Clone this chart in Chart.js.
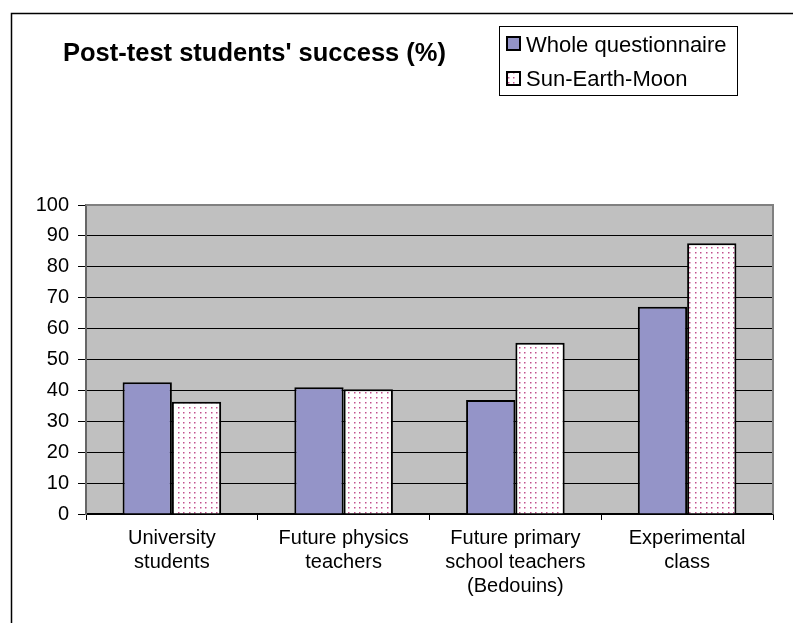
<!DOCTYPE html>
<html>
<head>
<meta charset="utf-8">
<script src="https://cdn.jsdelivr.net/npm/chart.js@4/dist/chart.umd.min.js"></script>
<style>
    html, body { margin: 0; padding: 0; background: #fff; }
    #wrap { position: relative; width: 793px; height: 623px; overflow: hidden; }
</style>
</head>
<body>
<div id="wrap"><canvas id="chart" width="793" height="623"></canvas></div>
<script>
// Chart data
const categories = [
    ['University', 'students'],
    ['Future physics', 'teachers'],
    ['Future primary', 'school teachers', '(Bedouins)'],
    ['Experimental', 'class']
];
const seriesNames = ['Whole questionnaire', 'Sun-Earth-Moon'];
const wholeQuestionnaire = [42.6, 41.0, 36.9, 67.1];
const sunEarthMoon = [36.3, 40.4, 55.4, 87.6];
const yMin = 0;
const yMax = 100;
const yStep = 10;
const chartTitle = "Post-test students' success (%)";

const FONT = "'Liberation Sans', Arial, sans-serif";

// Dotted fill like the old spreadsheet pattern
function makeDotPattern() {
    const c = document.createElement('canvas');
    c.width = 11;
    c.height = 10;
    const g = c.getContext('2d');
    g.fillStyle = '#ffffff';
    g.fillRect(0, 0, 11, 10);
    [[2, 2], [7, 2], [2, 7], [7, 7]].forEach(function(p) {
        g.fillStyle = '#c0508e';
        g.fillRect(p[0], p[1], 1, 1);
        g.fillStyle = '#e2a8c6';
        g.fillRect(p[0] + 1, p[1], 1, 1);
        g.fillRect(p[0], p[1] + 1, 1, 1);
        g.fillStyle = '#f2d6e4';
        g.fillRect(p[0] + 1, p[1] + 1, 1, 1);
    });
    return document.getElementById('chart').getContext('2d').createPattern(c, 'repeat');
}

const dotPattern = makeDotPattern();

// Background, frame, title and legend
const decorPlugin = {
    id: 'decor',
    beforeDraw: function(chart) {
        const ctx = chart.ctx;
        const a = chart.chartArea;
        ctx.save();
        ctx.fillStyle = '#ffffff';
        ctx.fillRect(0, 0, chart.width, chart.height);
        ctx.fillStyle = '#c0c0c0';
        ctx.fillRect(a.left, a.top, a.right - a.left, a.bottom - a.top);
        ctx.restore();
    },
    afterDraw: function(chart) {
        const ctx = chart.ctx;
        const a = chart.chartArea;
        ctx.save();

        // outer frame
        ctx.strokeStyle = '#000';
        ctx.lineWidth = 1.5;
        ctx.beginPath();
        ctx.moveTo(11.5, chart.height + 2);
        ctx.lineTo(11.5, 13.5);
        ctx.lineTo(chart.width + 2, 13.5);
        ctx.stroke();

        // plot border top / right
        ctx.strokeStyle = '#808080';
        ctx.lineWidth = 2;
        ctx.beginPath();
        ctx.moveTo(a.left, a.top);
        ctx.lineTo(a.right, a.top);
        ctx.lineTo(a.right, a.bottom);
        ctx.stroke();

        // title
        ctx.fillStyle = '#000';
        ctx.font = 'bold 25.5px ' + FONT;
        ctx.textAlign = 'left';
        ctx.textBaseline = 'alphabetic';
        ctx.fillText(chartTitle, 63, 61);

        // legend
        ctx.strokeStyle = '#000';
        ctx.lineWidth = 1;
        ctx.strokeRect(499.5, 26.5, 238, 69);
        ctx.font = '22px ' + FONT;
        const rows = [{ y: 37, base: 52 }, { y: 72, base: 86 }];
        chart.data.datasets.forEach(function(ds, i) {
            ctx.fillStyle = ds.backgroundColor;
            ctx.fillRect(507, rows[i].y, 13, 13);
            ctx.strokeStyle = '#000';
            ctx.lineWidth = 2;
            ctx.strokeRect(507, rows[i].y, 13, 13);
            ctx.fillStyle = '#000';
            ctx.fillText(ds.label, 526, rows[i].base);
        });
        ctx.restore();
    }
};

const ctx = document.getElementById('chart').getContext('2d');
const chart = new Chart(ctx, {
    type: 'bar',
    data: {
        labels: categories,
        datasets: [
            {
                label: seriesNames[0],
                data: wholeQuestionnaire,
                backgroundColor: '#9494c8',
                borderColor: '#000',
                borderWidth: 2
            },
            {
                label: seriesNames[1],
                data: sunEarthMoon,
                backgroundColor: dotPattern,
                borderColor: '#000',
                borderWidth: 2
            }
        ]
    },
    options: {
        responsive: false,
        animation: false,
        devicePixelRatio: 1,
        layout: {
            padding: { left: 0, top: 205, right: 20, bottom: 0 }
        },
        datasets: {
            bar: {
                barPercentage: 1,
                categoryPercentage: 0.574
            }
        },
        scales: {
            x: {
                offset: true,
                grid: {
                    offset: true,
                    drawOnChartArea: false,
                    tickLength: 6,
                    color: '#000',
                    lineWidth: 1
                },
                border: { color: '#000', width: 1.5 },
                ticks: {
                    color: '#000',
                    font: { family: FONT, size: 20, lineHeight: 1.2 },
                    padding: 6,
                    maxRotation: 0,
                    autoSkip: false
                },
                afterFit: function(scale) {
                    scale.height = 109;
                }
            },
            y: {
                min: yMin,
                max: yMax,
                grid: {
                    color: '#000',
                    lineWidth: 1,
                    tickLength: 8
                },
                border: { color: '#666', width: 2 },
                ticks: {
                    stepSize: yStep,
                    color: '#000',
                    font: { family: FONT, size: 20 },
                    padding: 9
                },
                afterFit: function(scale) {
                    scale.width = 86;
                }
            }
        },
        plugins: {
            legend: { display: false },
            tooltip: { enabled: false }
        }
    },
    plugins: [decorPlugin]
});
</script>
</body>
</html>
